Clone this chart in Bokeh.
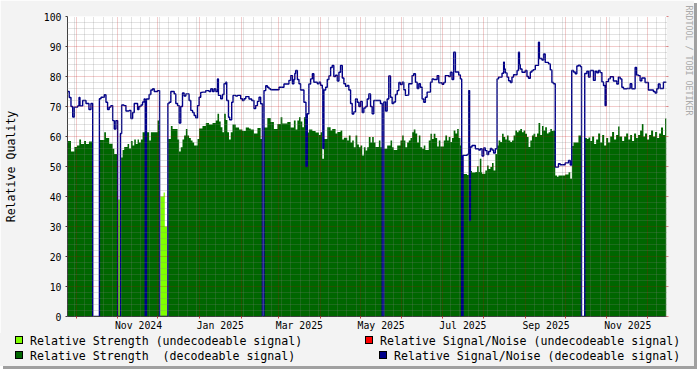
import datetime as dt
from bokeh.plotting import figure
from bokeh.layouts import column
from bokeh.models import FixedTicker, Range1d, Title, LinearAxis, Div
from bokeh.embed import file_html
from bokeh.resources import INLINE

# ---------------- data (day offsets from ORIGIN, value holds until next breakpoint) -------------
ORIGIN = dt.datetime(2024, 9, 24, 12)
END_DAY = 446.9

sn_day = [0.0, 1.3, 2.6, 3.9, 5.1, 7.6, 8.6, 9.3, 11.3, 13.8, 16.0, 17.5, 18.8, 23.8, 25.0, 27.4, 28.7,
          29.9, 31.1, 32.4, 33.7, 34.9, 36.1, 37.4, 39.5, 40.4, 42.1, 43.6, 46.0, 47.3, 48.6, 49.8, 52.3,
          53.3, 54.8, 56.0, 57.2, 58.0, 58.9, 60.9, 62.2, 63.5, 64.7, 67.2, 68.7, 74.9, 75.8, 77.1, 79.6,
          80.8, 82.1, 83.3, 84.5, 85.8, 87.0, 88.3, 90.7, 92.0, 93.3, 94.5, 95.7, 97.0, 98.2, 99.4, 100.7,
          103.2, 105.6, 106.9, 108.2, 109.4, 110.6, 111.9, 112.6, 114.3, 115.6, 116.8, 118.1, 118.8, 120.1,
          121.0, 122.5, 123.5, 125.5, 126.8, 129.2, 130.5, 131.7, 133.0, 135.4, 137.4, 139.1, 140.4, 141.7,
          142.9, 144.1, 145.4, 146.6, 147.9, 149.1, 150.3, 151.6, 157.8, 161.5, 165.2, 166.5, 167.8, 168.9,
          169.6, 170.2, 171.5, 172.7, 173.9, 176.4, 177.9, 178.9, 180.1, 181.4, 182.7, 183.8, 186.4, 187.6,
          188.8, 190.1, 190.5, 191.3, 192.6, 193.8, 195.0, 196.3, 197.5, 198.7, 200.0, 201.3, 202.5, 203.7,
          205.0, 206.2, 207.5, 208.7, 209.9, 211.2, 212.4, 213.6, 214.9, 216.2, 217.4, 218.6, 219.9, 221.1,
          222.4, 223.6, 224.8, 226.1, 227.3, 228.5, 233.5, 234.8, 236.0, 237.3, 238.5, 239.7, 241.0, 242.2,
          243.4, 244.7, 246.0, 247.2, 248.4, 249.7, 250.9, 252.1, 253.4, 254.6, 257.1, 258.3, 259.6, 260.9,
          262.1, 263.3, 264.6, 265.8, 267.0, 268.3, 270.8, 272.0, 273.2, 275.8, 277.0, 279.5, 280.7, 281.9,
          284.4, 285.7, 286.9, 288.1, 289.4, 291.9, 293.1, 294.1, 295.1, 298.1, 299.3, 300.0, 300.6, 301.8,
          304.3, 306.8, 308.0, 309.3, 310.5, 311.7, 313.0, 314.2, 315.5, 316.7, 317.9, 319.2, 320.5, 321.6,
          324.2, 325.4, 325.9, 326.6, 327.9, 329.1, 330.4, 331.6, 332.8, 335.4, 336.5, 337.2, 337.8, 339.1,
          341.5, 342.8, 344.0, 345.3, 346.5, 347.7, 349.0, 351.4, 352.1, 354.0, 355.2, 356.4, 358.9, 360.2,
          361.4, 362.6, 363.9, 366.3, 367.6, 371.3, 373.8, 375.1, 376.2, 377.5, 378.8, 380.0, 381.2, 382.5,
          383.5, 385.9, 387.5, 388.7, 390.0, 392.4, 393.7, 394.9, 396.1, 397.4, 398.7, 399.9, 401.1, 401.9,
          403.6, 404.9, 407.3, 409.8, 411.0, 412.3, 413.6, 414.8, 417.3, 419.8, 421.0, 423.5, 424.6, 425.9,
          427.2, 428.5, 430.9, 433.4, 437.1, 438.4, 439.6, 440.8, 442.1, 444.6]
sn_val = [75, 73, 70, 66.5, 69.8, 70.2, 73, 70.2, 72, 71, 69, 71, 0, 72.6, 73.1, 73.9, 71.4,
          69, 69.8, 70.3, 65.3, 62.5, 65.3, 0, 61, 70.5, 70.3, 68.5, 68.7, 66, 68, 71, 69,
          70, 70.5, 71.5, 72.5, 0, 72.5, 74, 75.5, 75.9, 75, 75.3, 0, 71, 71.4, 75, 74.2,
          71, 70.3, 64.5, 70, 74.5, 73.5, 74.2, 72, 68.7, 68, 67, 66.2, 70.3, 73.1, 74.7, 74.8,
          75.3, 75, 75.9, 75, 75.9, 75, 79.2, 73.7, 72.6, 74, 77.6, 78.1, 72, 66.4,
          65.6, 71.4, 73.7, 73.5, 73.7, 72.6, 72, 72.6, 73.3, 72.5, 72, 69.3, 70.3, 71.7,
          73.1, 70.9, 0, 75.3, 76.9, 76.4, 75.9, 75.6, 76.4, 77.5, 78.7, 80.3, 77.6, 79,
          81, 82, 79, 77.6, 75.5, 71.4, 50, 67.6, 77.5, 79.2, 80.9, 78.1, 77.6, 78.1,
          77.1, 76, 56, 75.5, 76.4, 79, 80.2, 83, 83.7, 80, 80.4, 78.5, 81.4, 83.7,
          79.5, 77.6, 76.7, 77, 75.5, 71, 67.5, 68.2, 72.5, 71.4, 70, 71.7, 68, 69.5,
          70, 72.5, 74.2, 70, 67.6, 72, 71, 0, 71.5, 68.5, 72.5, 80.2, 73.1, 71,
          71.5, 74, 75.3, 78, 77.3, 78.1, 75.6, 73.7, 73.8, 77.6, 80.3, 80.9, 78.1, 76,
          77.6, 76.4, 72.5, 71.4, 73.1, 74.8, 78.1, 79.2, 79, 80.3, 77.9, 77.4, 78, 80.3,
          80, 81.4, 79, 88.1, 81.5, 80.5, 79.2, 0, 53.7, 54, 75.3, 32, 56.5, 57,
          55.9, 55.5, 55.9, 53.5, 56.2, 55.3, 54, 55, 56, 55.5, 54.5, 55.9, 79.2, 79.8,
          81.1, 84.8, 82.5, 81.2, 79.8, 78.6, 78, 79.8, 80.6, 82, 88.1, 84, 82.5, 81.4,
          82, 80, 79.4, 81.5, 82, 82.3, 83.7, 91.4, 86, 85.5, 87.5, 84.7, 84.2, 82.2,
          78, 77.6, 49.8, 50.9, 50.6, 51.2, 52, 50.5, 82, 81.5, 80.9, 83.5, 83.8, 83.3,
          0, 81, 81.8, 79.8, 82, 78.7, 81.8, 81.2, 82, 81.3, 78.2, 77, 70.3, 78.3,
          79.2, 79.9, 78.5, 77.5, 79.8, 79.2, 76.4, 75.9, 76, 77.6, 75.9, 83, 80.5, 80.3,
          78.6, 79.5, 78, 75.5, 75, 74.5, 75.9, 77.5, 76, 78.1]

rs_day = [0.0, 2.6, 5.1, 7.1, 8.8, 10.1, 12.3, 13.8, 16.0, 18.8, 23.8, 27.4, 28.7, 31.1, 33.7, 34.9,
          37.4, 39.5, 41.1, 42.3, 44.8, 46.0, 47.3, 48.6, 49.8, 51.0, 52.3, 53.3, 54.8, 56.0, 58.0, 58.9,
          60.9, 62.2, 67.2, 68.4, 68.7, 74.9, 77.1, 78.4, 82.1, 83.3, 84.5, 85.8, 87.0, 88.3, 89.5, 90.7,
          92.0, 93.3, 94.5, 97.0, 98.2, 100.7, 103.2, 105.6, 108.2, 110.6, 111.9, 113.1, 114.3, 115.6,
          116.8, 118.1, 119.3, 120.5, 121.8, 123.1, 125.5, 128.0, 130.5, 133.0, 135.4, 136.7, 139.1,
          141.7, 144.1, 145.4, 146.6, 149.1, 151.6, 154.0, 156.6, 159.0, 160.3, 164.0, 166.5, 168.9,
          170.2, 171.5, 172.7, 173.9, 175.2, 176.4, 177.9, 178.9, 180.1, 182.7, 185.1, 187.6, 188.8,
          190.1, 191.3, 193.8, 196.3, 197.5, 200.0, 201.3, 203.7, 205.0, 206.2, 208.7, 209.9, 211.2,
          212.4, 213.6, 214.9, 216.2, 217.4, 218.6, 219.9, 221.1, 222.4, 223.6, 224.8, 226.1, 227.3,
          228.5, 229.8, 232.3, 233.5, 234.8, 236.0, 238.5, 241.0, 242.2, 243.4, 246.0, 248.4, 249.7,
          250.9, 252.1, 253.4, 254.6, 255.9, 257.1, 258.3, 259.6, 260.9, 262.1, 263.3, 264.6, 265.8,
          267.0, 269.5, 270.8, 272.0, 273.2, 274.5, 275.8, 277.0, 278.2, 280.7, 281.9, 283.2, 284.4,
          285.7, 286.9, 288.1, 289.4, 290.7, 291.9, 293.1, 294.1, 295.1, 298.1, 299.3, 300.6, 301.8,
          304.3, 305.6, 306.8, 307.6, 308.8, 309.3, 311.7, 313.0, 314.2, 315.5, 316.7, 317.9, 319.2,
          320.5, 321.6, 322.9, 324.2, 325.4, 326.6, 327.9, 329.1, 330.4, 331.6, 332.8, 334.1, 335.4,
          336.5, 337.8, 339.1, 340.3, 341.5, 342.8, 344.0, 345.3, 346.5, 347.7, 349.0, 350.3, 351.4,
          352.7, 354.0, 355.2, 356.4, 357.7, 358.9, 360.2, 361.4, 362.6, 363.9, 365.2, 366.3, 371.3,
          373.8, 375.1, 376.3, 377.5, 381.2, 383.5, 385.9, 387.5, 388.7, 390.0, 391.4, 392.9, 394.4,
          395.9, 397.4, 398.9, 400.4, 401.9, 403.4, 404.9, 406.3, 407.8, 409.3, 410.8, 411.9, 413.8,
          415.3, 416.8, 418.3, 419.8, 421.2, 422.7, 424.2, 425.7, 427.2, 428.5, 429.7, 430.9, 432.4,
          433.9, 435.4, 436.9, 438.4, 439.9, 441.4, 442.8, 444.3, 445.8]
rs_val = [58.5, 55, 56.5, 57, 59, 57.5, 58.5, 57.5, 58.3, 0, 58.8, 61.4, 59.5, 57.6, 55.9, 54.2,
          0, 53, 55.5, 56.5, 57.5, 56, 58.5, 57, 59, 57.5, 59, 58, 59, 61.4, 0, 61.4,
          58.7, 61.4, 65.3, 61, 0, 59.2, 63.5, 62.5, 59, 55, 56.4, 59, 60.3, 62.5, 60.3, 59.5,
          58.7, 58, 57, 59.2, 62.7, 63.5, 64.5, 64, 64.5, 65.3, 67.6, 65, 63.1, 61.4,
          67.6, 65.5, 61.4, 59, 61.4, 64, 63, 62.3, 61.8, 63, 62.7, 62.3, 61,
          62.8, 59.2, 0, 63, 66.2, 64.8, 62.5, 64.2, 66.4, 64.3, 64.8, 63, 65.3,
          62.3, 65.3, 66.4, 65, 63.1, 66.4, 50, 61.3, 62.3, 61.8, 61.3, 60.5, 61.4,
          52.6, 59.2, 63.1, 62, 62.5, 61, 61.5, 62, 59, 59.6, 58.7, 60.3, 58,
          58.7, 56.4, 60.3, 57.3, 56.4, 57, 53.7, 56.4, 55.3, 56.4, 59.8, 58, 59.8,
          58, 56.5, 58.7, 56.4, 0, 55.9, 57, 58.7, 56.4, 55.5, 57, 58.7, 60.3,
          58.7, 56.4, 58, 58.7, 59.5, 61.4, 62.3, 61, 58, 60.3, 56.4, 55.9, 57,
          55.5, 58.7, 60.9, 59.2, 60.9, 59.5, 56.7, 58.7, 56.7, 58.7, 60.3, 58.7, 59.8,
          58.2, 59.5, 62, 61, 62.5, 59.5, 57, 0, 47.5, 47.2, 53.7, 48.5, 48,
          48.2, 50.1, 48.2, 52.6, 48.1, 47.6, 48.7, 50.3, 49.2, 49.8, 51.2, 48.7, 54.2,
          57, 58.7, 58.2, 60.9, 59.8, 59, 60.3, 58.7, 58.2, 58.7, 60.3, 62, 61.4,
          62, 62.5, 61.4, 62, 60.9, 59.8, 56.5, 58.7, 60.3, 60.9, 59.8, 61, 64.5,
          60.5, 63.5, 62, 63.1, 61, 61.4, 62.5, 61.8, 62, 47, 46.6, 47, 47.3,
          48.1, 45.9, 56.8, 58, 60.3, 0, 59.5, 59.2, 59.7, 58.5, 60, 57.5, 59,
          61, 58, 60.5, 57, 59.5, 58, 60, 61.5, 59, 60.5, 63.3, 60, 58.5,
          60, 61, 59, 60.5, 58.5, 61, 59.5, 60.5, 62, 64.2, 60, 61, 59,
          60.5, 62, 60, 61.5, 59.5, 61, 63, 60.5, 66]

ru_day = [37.6, 39.3, 69.3, 71.7, 72.6, 74.5]
ru_val = [39, 0, 40, 41.3, 30, 0]

month_labels = ["Nov 2024", "Jan 2025", "Mar 2025", "May 2025", "Jul 2025", "Sep 2025", "Nov 2025"]

legend_texts = ["Relative Strength (undecodeable signal)",
                "Relative Signal/Noise (undecodeable signal)",
                "Relative Strength  (decodeable signal)",
                "Relative Signal/Noise (decodeable signal)"]
legend_colors = ["#80FF00", "#FF0000", "#006600", "#000088"]

# ---------------- helpers ----------------
def day_of(d):
    return (d - ORIGIN).total_seconds() / 86400.0

def closed(days, vals):
    return list(days) + [END_DAY], list(vals) + [vals[-1]]

month_starts = []
yy, mm = 2024, 10
while True:
    dd = day_of(dt.datetime(yy, mm, 1))
    if dd > END_DAY:
        break
    month_starts.append(round(dd, 3))
    mm += 1
    if mm > 12:
        mm, yy = 1, yy + 1

weeks = []
w = dt.datetime(2024, 9, 30)
while day_of(w) < END_DAY:
    wd = round(day_of(w), 3)
    if wd not in month_starts:
        weeks.append(wd)
    w += dt.timedelta(days=7)

label_pos = [round(day_of(dt.datetime.strptime(s, "%b %Y")) + 15.5, 3) for s in month_labels]

FONT = "DejaVu Sans Mono"
AXIS = "#404040"
BG = "#F3F3F3"

# ---------------- main chart ----------------
p = figure(width=694, height=333, output_backend="svg", toolbar_location=None,
           x_range=Range1d(0, END_DAY), y_range=Range1d(0, 100),
           min_border_left=66, min_border_right=28, min_border_top=16, min_border_bottom=17,
           background_fill_color="white", border_fill_color=BG, outline_line_color=None)

gx, gy = closed(rs_day, rs_val)
p.varea_step(x=gx, y1=[0] * len(gx), y2=gy, step_mode="after", fill_color="#006600")
lx, ly = closed(ru_day, ru_val)
p.varea_step(x=lx, y1=[0] * len(lx), y2=ly, step_mode="after", fill_color="#80FF00")
bx, by = closed(sn_day, sn_val)
p.step(x=bx, y=by, mode="after", line_color="#000088", line_width=1.4)

# grids
p.xgrid.ticker = FixedTicker(ticks=month_starts, minor_ticks=weeks)
p.ygrid.ticker = FixedTicker(ticks=list(range(0, 101, 10)),
                             minor_ticks=[v for v in range(0, 101, 2) if v % 10])
for g in (p.xgrid, p.ygrid):
    g.grid_line_color = "#C00000"
    g.grid_line_alpha = 0.4
    g.grid_line_dash = "1 1"
    g.minor_grid_line_color = "#808080"
    g.minor_grid_line_alpha = 0.45
    g.minor_grid_line_dash = "1 1"
    g.level = "overlay"

# x axis
xa = p.xaxis[0]
xa.ticker = FixedTicker(ticks=label_pos, minor_ticks=month_starts)
xa.major_label_overrides = {pos: s for pos, s in zip(label_pos, month_labels)}
xa.major_tick_out = 0
xa.major_tick_in = 0
xa.minor_tick_out = 2
xa.minor_tick_in = 0
xa.minor_tick_line_color = "#C04040"
xa.axis_line_color = AXIS
xa.major_label_standoff = 1
xa.major_label_text_font = FONT
xa.major_label_text_font_size = "9.8px"
xa.major_label_text_color = "#000000"

# y axis + title
ya = p.yaxis[0]
ya.ticker = FixedTicker(ticks=list(range(0, 101, 10)))
ya.major_tick_out = 2
ya.major_tick_in = 0
ya.minor_tick_out = 0
ya.minor_tick_in = 0
ya.major_tick_line_color = AXIS
ya.axis_line_color = AXIS
ya.major_label_standoff = 4
ya.major_label_text_font = FONT
ya.major_label_text_font_size = "9.8px"
ya.major_label_text_color = "#000000"
ya.axis_label = "Relative Quality"
ya.axis_label_standoff = 23
ya.axis_label_text_font = FONT
ya.axis_label_text_font_size = "11.6px"
ya.axis_label_text_font_style = "normal"
ya.axis_label_text_color = "#000000"

# right side: grid tick stubs, a spacer, then the watermark
ra = LinearAxis(ticker=FixedTicker(ticks=list(range(0, 101, 10))), axis_line_color=None,
                major_tick_out=2, major_tick_in=0, minor_tick_out=0, minor_tick_in=0,
                major_tick_line_color="#C00000", major_tick_line_alpha=0.45,
                major_label_overrides={v: "" for v in range(0, 101, 10)})
p.add_layout(ra, "right")
spacer = LinearAxis(ticker=FixedTicker(ticks=[50]), axis_line_color=None,
                    major_tick_out=13, major_tick_in=0, minor_tick_out=0, minor_tick_in=0,
                    major_tick_line_color=None, major_label_overrides={50: ""})
p.add_layout(spacer, "right")
p.add_layout(Title(text="RRDTOOL / TOBI OETIKER", align="left", vertical_align="top",
                   offset=-11, standoff=0, text_font=FONT, text_font_size="8.3px",
                   text_font_style="normal", text_color="#AAAAAA"), "right")

# ---------------- legend strip (HTML, pixel layout of the two legend rows) ----------------
LH = 33
row_center = [8, 22.5]
sw_x = [15, 365, 15, 379]
tx_x = [30, 380, 30, 394]
parts = []
for i in range(4):
    cy = row_center[i // 2]
    parts.append(
        f'<span style="position:absolute;left:{sw_x[i]}px;top:{cy - 5}px;width:8px;height:8px;'
        f'border:1px solid #000;background:{legend_colors[i]};"></span>')
    parts.append(
        f'<span style="position:absolute;left:{tx_x[i]}px;top:{cy - 7}px;height:14px;'
        f'line-height:14px;font-family:\'{FONT}\',monospace;font-size:11.6px;color:#000;'
        f'white-space:pre;">{legend_texts[i]}</span>')
html = (f'<div style="position:relative;width:694px;height:{LH}px;background:{BG};'
        f'margin:0;padding:0;overflow:hidden;">' + "".join(parts) + "</div>")
legend_div = Div(text=html, width=694, height=LH, margin=0, styles={"background-color": BG})

layout = column(p, legend_div, spacing=0)
layout.styles = {"box-shadow": "3px 3px 0px 0px #A0A0A0"}

open("out.html", "w").write(file_html(layout, INLINE))
